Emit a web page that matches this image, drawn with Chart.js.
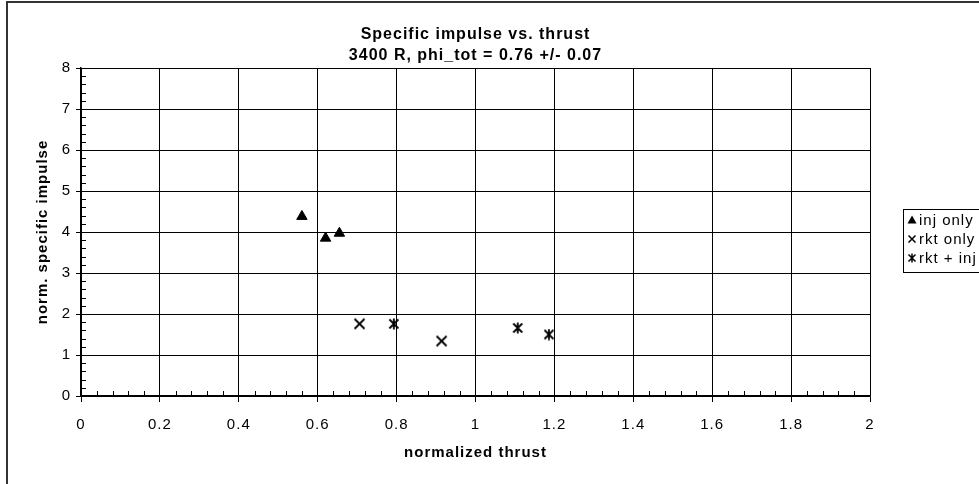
<!DOCTYPE html>
<html><head><meta charset="utf-8">
<script src="https://cdn.jsdelivr.net/npm/chart.js@4"></script>
<style>html,body{margin:0;padding:0;background:#fff}#wrap{position:relative;width:979px;height:484px}</style>
</head><body><div id="wrap"><canvas id="c" width="979" height="484"></canvas></div>
<script>
const titleLines = ['Specific impulse vs. thrust', '3400 R, phi_tot = 0.76 +/- 0.07'];
const xTitle = 'normalized thrust';
const yTitle = 'norm. specific impulse';
const seriesNames = ['inj only', 'rkt only', 'rkt + inj'];
const injX = [0.56, 0.62, 0.655];
const injY = [4.38, 3.85, 3.97];
const rktX = [0.706, 0.914];
const rktY = [1.76, 1.34];
const bothX = [0.793, 1.107, 1.186];
const bothY = [1.76, 1.66, 1.50];
const xTickLabels = ['0', '0.2', '0.4', '0.6', '0.8', '1', '1.2', '1.4', '1.6', '1.8', '2'];
const yTickLabels = ['0', '1', '2', '3', '4', '5', '6', '7', '8'];

const FONT = "'Liberation Sans', Arial, Helvetica, sans-serif";

function makeMarker(size, vertical, lw) {
  const c = document.createElement('canvas');
  c.width = size; c.height = size;
  const g = c.getContext('2d');
  g.strokeStyle = '#000'; g.lineWidth = lw; g.lineCap = 'butt';
  const m = size / 2, r = size / 2 - 1.5;
  g.beginPath();
  g.moveTo(m - r, m - r); g.lineTo(m + r, m + r);
  g.moveTo(m + r, m - r); g.lineTo(m - r, m + r);
  if (vertical) { g.moveTo(m, 0.5); g.lineTo(m, size - 0.5); }
  g.stroke();
  return c;
}
const xMark = makeMarker(13, false, 1.8);
const starMark = makeMarker(12, true, 1.8);
const xMarkSmall = makeMarker(10, false, 1.5);
const starMarkSmall = makeMarker(10, true, 1.5);

function pts(xs, ys) { return xs.map((x, i) => ({x: x, y: ys[i]})); }

const frameAndMinor = {
  id: 'frameAndMinor',
  beforeDraw(chart) {
    const ctx = chart.ctx;
    ctx.save();
    ctx.fillStyle = '#fff';
    ctx.fillRect(0, 0, chart.width, chart.height);
    ctx.restore();
    ctx.letterSpacing = '1px';
  },
  afterDraw(chart) {
    const ctx = chart.ctx;
    const xs = chart.scales.x, ys = chart.scales.y;
    const a = chart.chartArea;
    ctx.save();
    ctx.strokeStyle = '#000';
    ctx.lineWidth = 1;
    ctx.beginPath();
    for (let i = 0; i <= 50; i++) {
      if (i % 5 === 0) continue;
      const px = Math.round(xs.getPixelForValue(i * 0.04)) + 0.5;
      ctx.moveTo(px, a.bottom); ctx.lineTo(px, a.bottom - 5);
    }
    for (let i = 0; i <= 40; i++) {
      if (i % 5 === 0) continue;
      const py = Math.round(ys.getPixelForValue(i * 0.2)) + 0.5;
      ctx.moveTo(a.left, py); ctx.lineTo(a.left + 5, py);
    }
    ctx.stroke();
    // outer frame
    ctx.strokeStyle = '#333';
    ctx.lineWidth = 2;
    ctx.strokeRect(7, 2, 1200, 1200);
    // legend
    const lx = 903.5, ly = 209.5;
    ctx.fillStyle = '#fff';
    ctx.fillRect(lx, ly, 100, 63);
    ctx.strokeStyle = '#000';
    ctx.lineWidth = 1;
    ctx.strokeRect(lx, ly, 100, 63);
    ctx.font = '15px ' + FONT;
    ctx.letterSpacing = '1px';
    ctx.fillStyle = '#000';
    ctx.textBaseline = 'middle';
    ctx.textAlign = 'left';
    const rowsY = [220, 239, 258];
    const mx = 912;
    chart.data.datasets.forEach((ds, i) => {
      const cy = rowsY[i];
      if (i === 0) {
        ctx.beginPath();
        ctx.moveTo(mx, cy - 4.5); ctx.lineTo(mx + 4.5, cy + 3.5); ctx.lineTo(mx - 4.5, cy + 3.5);
        ctx.closePath(); ctx.fill();
      } else {
        const img = i === 1 ? xMarkSmall : starMarkSmall;
        ctx.drawImage(img, mx - img.width / 2, cy - img.height / 2);
      }
      ctx.fillText(ds.label, 919, cy + 0.5);
    });
    ctx.restore();
  }
};

new Chart(document.getElementById('c'), {
  type: 'scatter',
  data: {
    datasets: [
      {label: seriesNames[0], data: pts(injX, injY), pointStyle: 'triangle', pointRadius: 6,
       backgroundColor: '#000', borderColor: '#000', borderWidth: 1},
      {label: seriesNames[1], data: pts(rktX, rktY), pointStyle: xMark, pointRadius: 6,
       backgroundColor: '#000', borderColor: '#000'},
      {label: seriesNames[2], data: pts(bothX, bothY), pointStyle: starMark, pointRadius: 6,
       backgroundColor: '#000', borderColor: '#000'}
    ]
  },
  options: {
    responsive: false,
    devicePixelRatio: 1,
    animation: false,
    layout: {padding: {left: 0, right: 109, top: 0, bottom: 0}},
    plugins: {
      legend: {display: false},
      tooltip: {enabled: false},
      title: {
        display: true, text: titleLines, fullSize: false, color: '#000',
        font: {family: FONT, size: 16, weight: 'bold', lineHeight: 1.3},
        padding: {top: 24, bottom: 2.4}
      }
    },
    scales: {
      x: {
        type: 'linear', min: 0, max: 2,
        afterFit(s) { s.height = 88; },
        afterBuildTicks(s) { s.ticks = xTickLabels.map(t => ({value: parseFloat(t)})); },
        ticks: {
          color: '#000', padding: 14, maxRotation: 0, autoSkip: false,
          font: {family: FONT, size: 15},
          callback: (v, i) => xTickLabels[i]
        },
        grid: {color: '#000', lineWidth: 1, drawTicks: true, tickLength: 6, tickColor: '#000'},
        border: {display: true, color: '#000', width: 1.5},
        title: {display: true, text: xTitle, color: '#000',
          font: {family: FONT, size: 15, weight: 'bold'}, padding: {top: 0, bottom: 22}}
      },
      y: {
        type: 'linear', min: 0, max: 8,
        afterFit(s) { s.width = 81; },
        afterBuildTicks(s) { s.ticks = yTickLabels.map(t => ({value: parseFloat(t)})); },
        ticks: {
          color: '#000', padding: 5, autoSkip: false,
          font: {family: FONT, size: 15},
          callback: (v, i) => yTickLabels[i]
        },
        grid: {color: '#000', lineWidth: 1, drawTicks: true, tickLength: 5, tickColor: '#000'},
        border: {display: true, color: '#000', width: 1.5},
        title: {display: true, text: yTitle, color: '#000',
          font: {family: FONT, size: 15, weight: 'bold'}, padding: {top: 34, bottom: 0}}
      }
    }
  },
  plugins: [frameAndMinor]
});
</script>
</body></html>
